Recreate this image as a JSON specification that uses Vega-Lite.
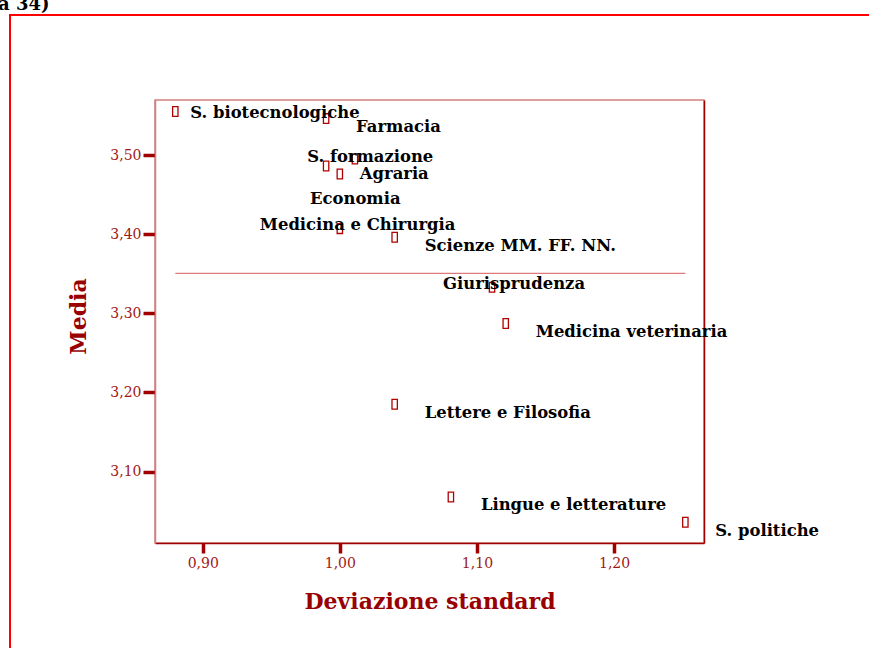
{
  "$schema": "https://vega.github.io/schema/vega-lite/v6.json",
  "width": 549,
  "height": 443,
  "autosize": {"type": "none"},
  "padding": {"left": 155, "top": 100, "right": 165, "bottom": 105},
  "background": "white",
  "title": {"text": "a 34)", "anchor": "start", "frame": "group", "dx": -157, "offset": -13, "font": "DejaVu Serif", "fontSize": 18, "fontWeight": "bold", "color": "black", "baseline": "alphabetic"},
  "config": {
    "locale": {"number": {"decimal": ",", "thousands": ".", "grouping": [3], "currency": ["", " €"]}},
    "view": {"stroke": "#d08080", "strokeWidth": 1.5},
    "axis": {"grid": false, "labelFont": "DejaVu Serif", "labelFontSize": 14, "labelColor": "#a01818", "tickColor": "#a00000", "tickWidth": 3.5, "titleFont": "DejaVu Serif", "titleFontWeight": "bold", "titleColor": "#990000"}
  },
  "data": {"values": [
    {"facolta": "S. biotecnologiche", "sd": 0.880, "media": 3.555},
    {"facolta": "Farmacia", "sd": 0.990, "media": 3.546},
    {"facolta": "S. formazione", "sd": 1.011, "media": 3.495},
    {"facolta": "Economia", "sd": 0.990, "media": 3.486},
    {"facolta": "Agraria", "sd": 1.000, "media": 3.476},
    {"facolta": "Medicina e Chirurgia", "sd": 1.000, "media": 3.407},
    {"facolta": "Scienze MM. FF. NN.", "sd": 1.040, "media": 3.396},
    {"facolta": "Giurisprudenza", "sd": 1.111, "media": 3.333},
    {"facolta": "Medicina veterinaria", "sd": 1.121, "media": 3.287},
    {"facolta": "Lettere e Filosofia", "sd": 1.040, "media": 3.185},
    {"facolta": "Lingue e letterature", "sd": 1.081, "media": 3.068},
    {"facolta": "S. politiche", "sd": 1.252, "media": 3.036}
  ]},
  "resolve": {"axis": {"y": "independent"}},
  "layer": [
    {
      "mark": {"type": "rule", "color": "#e07a7a", "strokeWidth": 1.2},
      "encoding": {
        "x": {"aggregate": "min", "field": "sd", "type": "quantitative", "scale": {"domain": [0.8652, 1.2656], "nice": false, "zero": false},
          "axis": {"values": [0.9, 1.0, 1.1, 1.2], "format": ".2f", "domainColor": "#a00000", "domainWidth": 1.5, "tickSize": 10, "labelPadding": 3, "title": "Deviazione standard", "titleFontSize": 22, "titlePadding": 21}},
        "x2": {"aggregate": "max", "field": "sd"},
        "y": {"datum": 3.3505, "type": "quantitative", "scale": {"domain": [3.0098, 3.5695], "nice": false, "zero": false},
          "axis": {"values": [3.1, 3.2, 3.3, 3.4, 3.5], "format": ".2f", "domainColor": "#d08080", "domainWidth": 1.5, "tickSize": 12, "labelPadding": 2, "title": "Media", "titleFontSize": 22, "titlePadding": 19, "titleY": 216}}
      }
    },
    {
      "mark": {"type": "point", "shape": "M-0.55,-1L0.55,-1L0.55,1L-0.55,1Z", "size": 95, "filled": false, "color": "#b00000", "strokeWidth": 1.3, "opacity": 1},
      "encoding": {
        "x": {"field": "sd", "type": "quantitative"},
        "y": {"field": "media", "type": "quantitative", "axis": null}
      }
    },
    {
      "transform": [{"filter": {"field": "facolta", "oneOf": ["Farmacia", "Scienze MM. FF. NN.", "Medicina veterinaria", "Lettere e Filosofia", "Lingue e letterature", "S. politiche"]}}],
      "mark": {"type": "text", "align": "left", "baseline": "alphabetic", "dx": 30, "dy": 13.5, "font": "DejaVu Serif", "fontSize": 16.4, "fontWeight": "bold", "fill": "black", "strokeWidth": 0},
      "encoding": {
        "x": {"field": "sd", "type": "quantitative"},
        "y": {"field": "media", "type": "quantitative", "axis": {"orient": "right", "domainColor": "#a00000", "domainWidth": 1.5, "ticks": false, "labels": false, "title": null}},
        "text": {"field": "facolta"},
        "stroke": {"field": "media", "type": "quantitative", "scale": {"range": ["rgba(255,255,255,0)", "rgba(255,255,255,0)"]},
          "legend": {"orient": "none", "legendX": -145, "legendY": -85, "direction": "horizontal", "gradientLength": 900, "gradientThickness": 700, "gradientStrokeColor": "#ff0000", "gradientStrokeWidth": 2, "title": null, "values": [], "labelOpacity": 0, "padding": 0}}
      }
    },
    {
      "transform": [{"filter": {"field": "facolta", "equal": "S. biotecnologiche"}}],
      "mark": {"type": "text", "align": "left", "baseline": "alphabetic", "dx": 15, "dy": 6.6, "font": "DejaVu Serif", "fontSize": 16.4, "fontWeight": "bold", "fill": "black"},
      "encoding": {"x": {"field": "sd", "type": "quantitative"}, "y": {"field": "media", "type": "quantitative", "axis": null}, "text": {"field": "facolta"}}
    },
    {
      "transform": [{"filter": {"field": "facolta", "equal": "S. formazione"}}],
      "mark": {"type": "text", "align": "left", "baseline": "alphabetic", "dx": -47.7, "dy": 3.4, "font": "DejaVu Serif", "fontSize": 16.4, "fontWeight": "bold", "fill": "black"},
      "encoding": {"x": {"field": "sd", "type": "quantitative"}, "y": {"field": "media", "type": "quantitative", "axis": null}, "text": {"field": "facolta"}}
    },
    {
      "transform": [{"filter": {"field": "facolta", "equal": "Agraria"}}],
      "mark": {"type": "text", "align": "left", "baseline": "alphabetic", "dx": 20, "dy": 5.3, "font": "DejaVu Serif", "fontSize": 16.4, "fontWeight": "bold", "fill": "black"},
      "encoding": {"x": {"field": "sd", "type": "quantitative"}, "y": {"field": "media", "type": "quantitative", "axis": null}, "text": {"field": "facolta"}}
    },
    {
      "transform": [{"filter": {"field": "facolta", "equal": "Economia"}}],
      "mark": {"type": "text", "align": "left", "baseline": "alphabetic", "dx": -16, "dy": 38, "font": "DejaVu Serif", "fontSize": 16.4, "fontWeight": "bold", "fill": "black"},
      "encoding": {"x": {"field": "sd", "type": "quantitative"}, "y": {"field": "media", "type": "quantitative", "axis": null}, "text": {"field": "facolta"}}
    },
    {
      "transform": [{"filter": {"field": "facolta", "equal": "Medicina e Chirurgia"}}],
      "mark": {"type": "text", "align": "left", "baseline": "alphabetic", "dx": -80, "dy": 1.7, "font": "DejaVu Serif", "fontSize": 16.4, "fontWeight": "bold", "fill": "black"},
      "encoding": {"x": {"field": "sd", "type": "quantitative"}, "y": {"field": "media", "type": "quantitative", "axis": null}, "text": {"field": "facolta"}}
    },
    {
      "transform": [{"filter": {"field": "facolta", "equal": "Giurisprudenza"}}],
      "mark": {"type": "text", "align": "left", "baseline": "alphabetic", "dx": -49, "dy": 2.3, "font": "DejaVu Serif", "fontSize": 16.4, "fontWeight": "bold", "fill": "black"},
      "encoding": {"x": {"field": "sd", "type": "quantitative"}, "y": {"field": "media", "type": "quantitative", "axis": null}, "text": {"field": "facolta"}}
    }
  ]
}
